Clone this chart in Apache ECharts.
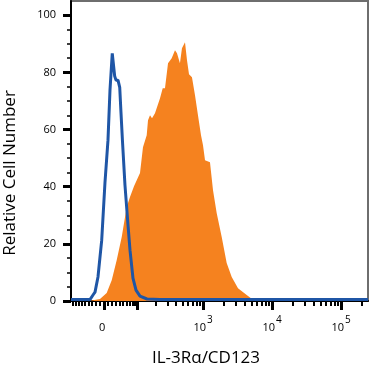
<!DOCTYPE html>
<html>
<head>
<meta charset="utf-8">
<script src="https://cdn.jsdelivr.net/npm/echarts@6/dist/echarts.min.js"></script>
<style>html,body{margin:0;padding:0;background:#fff;}#c{width:370px;height:372px;}</style>
</head>
<body>
<div id="c"></div>
<script>
// Display positions on the biexponential x axis (decades from zero) and relative cell counts
const isoPos   = [-0.478,-0.232,-0.203,-0.159,-0.130,-0.087,-0.033,0.014,0.058,0.087,0.120,0.155,0.174,0.203,0.228,0.246,0.268,0.304,0.348,0.377,0.420,0.464,0.522,0.623,0.812,3.826];
const isoCount = [0.5,0.5,0.5,2.1,3.1,8.4,21.3,41.3,56.3,73.8,86.7,78.7,77.3,77.3,74.8,66.1,55.9,40.6,26.6,17.8,8.0,3.8,1.7,0.7,0.5,0.5];

const cd123Pos   = [-0.232,-0.159,-0.058,0.039,0.112,0.184,0.257,0.329,0.377,0.435,0.522,0.565,0.619,0.638,0.667,0.696,0.739,0.812,0.851,0.884,0.928,0.981,1.029,1.058,1.101,1.130,1.174,1.203,1.232,1.275,1.319,1.362,1.406,1.435,1.464,1.536,1.580,1.633,1.706,1.778,1.851,1.942,2.068,2.145,2.203];
const cd123Count = [0,0.3,0.7,2.8,7.3,14.3,22.4,32.9,36.4,40.2,44.8,53.8,58.0,63.3,65.0,64.0,65.7,71.0,74.5,74.5,83.2,85.0,87.8,86.7,83.2,88.5,90.6,84.3,79.4,78.3,72.0,65.0,58.0,54.5,49.3,48.6,38.8,30.8,22.4,13.3,8.4,4.5,2.1,0.7,0];

// Axis tick values (fluorescence intensity) and labels
const xMajorValues = [0, 100, 1000, 10000, 100000];
const xLabelValues = [0, 1000, 10000, 100000];
const xLabelTexts  = ['0{s| }', '10{s|3}', '10{s|4}', '10{s|5}'];
const yMajorTicks  = [0, 20, 40, 60, 80, 100];
const yMinorTicks  = [5,10,15,25,30,35,45,50,55,65,70,75,85,90,95];

const W = 36.7;
function disp(v){ return Math.asinh(v/(2*W))/Math.LN10; }
const X_MIN = -0.478, X_MAX = 3.826;

const minorVals = [];
for (let k = 1; k <= 9; k++) minorVals.push(-10*k);
for (let k = 1; k <= 9; k++) minorVals.push(10*k);
[100,1000,10000,100000].forEach(d => { for (let k = 2; k <= 9; k++) minorVals.push(d*k); });
const xMinor = minorVals.map(disp).filter(p => p > X_MIN && p < X_MAX);
const xMajor = xMajorValues.map(disp);
const xLabPos = xLabelValues.map(disp);

const FONT = '"Open Sans", "Liberation Sans", sans-serif';
const BLUE = '#1f56a6', ORANGE = '#f5821f';

const chart = echarts.init(document.getElementById('c'), null, {renderer:'canvas'});
chart.setOption({
  animation: false,
  grid: { left: 71, right: 2, top: 1, bottom: 71, show: true, borderColor: '#6e6e6e', borderWidth: 2, backgroundColor: '#fff' },
  xAxis: [
    { type: 'value', min: X_MIN, max: X_MAX, position: 'bottom',
      splitLine: {show:false},
      axisLine: { show: true, onZero: false, lineStyle: { color: '#000', width: 2 } },
      axisTick: { show: true, customValues: xMajor, length: 9, lineStyle: { color: '#000', width: 3 } },
      axisLabel: { customValues: xLabPos, margin: 14, color: '#000', fontFamily: FONT, fontSize: 11,
        formatter: function(v){ let best=0; xLabPos.forEach((p,i)=>{ if (Math.abs(p-v) < Math.abs(xLabPos[best]-v)) best=i; }); return xLabelTexts[best]; },
        rich: { s: { fontSize: 10, fontFamily: FONT, color: '#000', padding: [0,0,16,1] } } } },
    { type: 'value', min: X_MIN, max: X_MAX, position: 'bottom',
      splitLine: {show:false},
      axisLine: { show: false, onZero: false },
      axisTick: { show: true, customValues: xMinor, length: 5, lineStyle: { color: '#000', width: 2 } },
      axisLabel: { show: false } }
  ],
  yAxis: [
    { type: 'value', min: 0, max: 105, position: 'left',
      splitLine: {show:false},
      axisLine: { show: true, onZero: false, lineStyle: { color: '#000', width: 2 } },
      axisTick: { show: true, customValues: yMajorTicks, length: 8, lineStyle: { color: '#000', width: 3 } },
      axisLabel: { customValues: yMajorTicks, margin: 15, color: '#000', fontFamily: FONT, fontSize: 11 } },
    { type: 'value', min: 0, max: 105, position: 'left',
      splitLine: {show:false},
      axisLine: { show: false, onZero: false },
      axisTick: { show: true, customValues: yMinorTicks, length: 4, lineStyle: { color: '#000', width: 1.5 } },
      axisLabel: { show: false } }
  ],
  series: [
    { type: 'line', name: 'CD123', xAxisIndex: 0, yAxisIndex: 0, showSymbol: false, z: 2,
      data: cd123Pos.map((p,i)=>[p, cd123Count[i]]),
      lineStyle: { width: 0 }, itemStyle: { color: ORANGE }, areaStyle: { color: ORANGE, opacity: 1 } },
    { type: 'line', name: 'Isotype', xAxisIndex: 0, yAxisIndex: 0, showSymbol: false, z: 3,
      data: isoPos.map((p,i)=>[p, isoCount[i]]),
      lineStyle: { width: 3, color: BLUE }, itemStyle: { color: BLUE } }
  ],
  graphic: [
    { type: 'text', x: 10, y: 173, rotation: Math.PI/2,
      style: { text: 'Relative Cell Number', font: '17px ' + FONT, fill: '#000', align: 'center', verticalAlign: 'middle' } },
    { type: 'text', x: 206, y: 358,
      style: { text: 'IL-3R\u03b1/CD123', font: '17px ' + FONT, fill: '#000', align: 'center', verticalAlign: 'middle' } }
  ]
});
</script>
</body>
</html>
